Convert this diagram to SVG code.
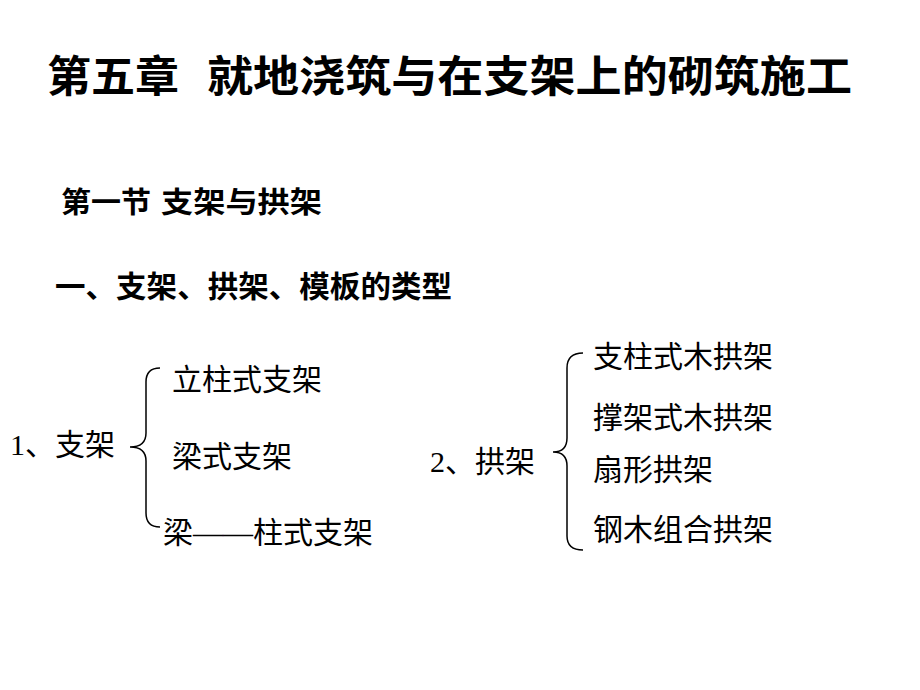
<svg xmlns="http://www.w3.org/2000/svg" width="920" height="690" viewBox="0 0 920 690">
<style>
.h{font-family:"Liberation Sans","Noto Sans CJK SC",sans-serif;font-weight:bold;fill:#000}
.t{font-family:"Liberation Serif","Noto Sans CJK SC",serif;font-size:30px;fill:#000}
.br{fill:none;stroke:#000;stroke-width:1.5}
</style>
<rect width="920" height="690" fill="#fff"/>
<g id="title">
<text class="h" x="47" y="92" font-size="43" textLength="132" lengthAdjust="spacingAndGlyphs">第五章</text>
<text class="h" x="207" y="92" font-size="43" textLength="645" lengthAdjust="spacingAndGlyphs">就地浇筑与在支架上的砌筑施工</text>
</g>
<g id="section">
<text class="h" x="61" y="213" font-size="29" textLength="90" lengthAdjust="spacingAndGlyphs">第一节</text>
<text class="h" x="161" y="213" font-size="29" textLength="161" lengthAdjust="spacingAndGlyphs">支架与拱架</text>
</g>
<text class="h" x="55" y="297" font-size="30" textLength="397" lengthAdjust="spacingAndGlyphs">一、支架、拱架、模板的类型</text>
<g id="n1">
<text class="t" x="10" y="455">1、支架</text>
</g>
<g id="n1a"><text class="t" x="172" y="390">立柱式支架</text></g>
<g id="n1b"><text class="t" x="172" y="467">梁式支架</text></g>
<g id="n1c"><text class="t" x="163" y="543">梁——柱式支架</text></g>
<g id="n2">
<text class="t" x="430" y="472">2、拱架</text>
</g>
<g id="n2a"><text class="t" x="593" y="367">支柱式木拱架</text></g>
<g id="n2b"><text class="t" x="593" y="428">撑架式木拱架</text></g>
<g id="n2c"><text class="t" x="593" y="480">扇形拱架</text></g>
<g id="n2d"><text class="t" x="593" y="540">钢木组合拱架</text></g>
<g id="connectors">
<path class="br" d="M160,368 Q146,368 146,382 L146,433 Q146,447 130,447 Q146,447 146,461 L146,513 Q146,527 160,527"/>
<path class="br" d="M583,353 Q567,353 567,368 L567,438 Q567,452 553,452 Q567,452 567,466 L567,536 Q567,550 583,550"/>
</g>
</svg>
